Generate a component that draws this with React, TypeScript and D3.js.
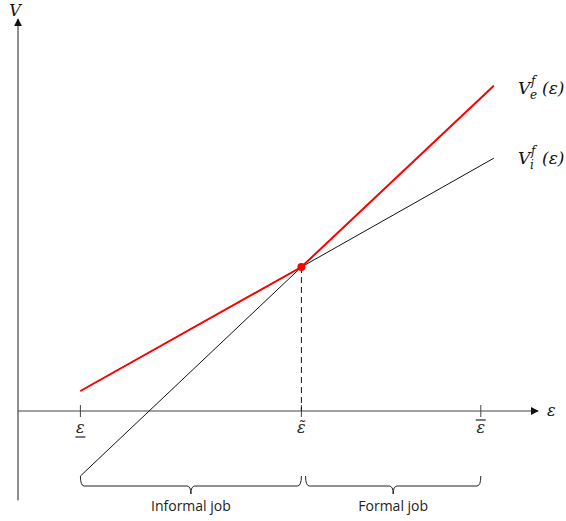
import React from "react";
import * as d3 from "d3";

// Threshold values of the productivity draw ε
const epsLow = 1.2;
const epsCut = 5.45;
const epsHigh = 8.9;

// Value functions at the plotted ε points: [ε, V]
const valueInformal: [number, number][] = [
  [1.2, 0.5],
  [5.45, 3.6],
  [9.15, 6.32],
];
const valueFormal: [number, number][] = [
  [1.2, -1.625],
  [5.45, 3.6],
  [9.15, 8.13],
];

// Curve labels: subscript and the V value the label sits beside
const curveLabels = [
  { sub: "e", at: 8.13 },
  { sub: "i", at: 6.38 },
];

// Bracketed job regions
const regions = [
  { label: "Informal job", from: 1.2, to: 5.45 },
  { label: "Formal job", from: 5.53, to: 8.9 },
];

const W = 566;
const H = 521;

export default function App() {
  const x = d3.scaleLinear().domain([0, 10]).range([18, 538]);
  const y = d3.scaleLinear().domain([0, 10]).range([411, 11]);

  const line = d3
    .line<[number, number]>()
    .x((d) => x(d[0]))
    .y((d) => y(d[1]));

  // Upper envelope max(V_e, V_i)
  const envelope: [number, number][] = valueInformal.map((d, i) => [
    d[0],
    Math.max(d[1], valueFormal[i][1]),
  ]);

  const cross = valueInformal[1];

  const bracePath = (x0: number, x1: number) => {
    const yT = 476;
    const yB = 486;
    const m = (x0 + x1) / 2;
    return `M${x0},${yT} Q${x0},${yB} ${x0 + 4},${yB} L${m - 4},${yB} Q${m},${yB} ${m},${yB + 8} Q${m},${yB} ${m + 4},${yB} L${x1 - 4},${yB} Q${x1},${yB} ${x1},${yT}`;
  };

  const mathFont = "'DejaVu Serif', serif";
  const axisColor = "#444";

  return (
    <svg
      width={W}
      height={H}
      style={{ position: "absolute", left: 0, top: 0, background: "#fff" }}
    >
      <defs>
        <marker
          id="arr"
          viewBox="0 0 10 10"
          refX="9"
          refY="5"
          markerWidth="8"
          markerHeight="8"
          orient="auto"
          markerUnits="userSpaceOnUse"
        >
          <path d="M0,0 L10,5 L0,10 Z" fill="#111" />
        </marker>
      </defs>

      {/* axes */}
      <line
        x1={x(0)}
        y1={y(-2.23)}
        x2={x(0)}
        y2={y(9.8)}
        stroke={axisColor}
        strokeWidth={1.2}
        markerEnd="url(#arr)"
      />
      <line
        x1={x(0)}
        y1={y(0)}
        x2={x(10)}
        y2={y(0)}
        stroke={axisColor}
        strokeWidth={1.2}
        markerEnd="url(#arr)"
      />
      <text
        x={x(0) - 3}
        y={16}
        textAnchor="middle"
        fontFamily={mathFont}
        fontStyle="italic"
        fontSize={16}
        fill="#111"
      >
        V
      </text>
      <text
        x={x(10) + 9}
        y={y(0) + 5}
        fontFamily={mathFont}
        fontStyle="italic"
        fontSize={16}
        fill="#111"
      >
        ε
      </text>

      {/* ticks */}
      {[epsLow, epsCut, epsHigh].map((t) => (
        <line
          key={t}
          x1={x(t)}
          x2={x(t)}
          y1={y(0) - 6}
          y2={y(0) + 6}
          stroke={axisColor}
          strokeWidth={1}
        />
      ))}
      <text
        x={x(epsLow)}
        y={y(0) + 22}
        textAnchor="middle"
        fontFamily={mathFont}
        fontStyle="italic"
        fontSize={16}
        fill="#222"
      >
        ε
      </text>
      <line
        x1={x(epsLow) - 5}
        x2={x(epsLow) + 5}
        y1={y(0) + 26}
        y2={y(0) + 26}
        stroke="#222"
        strokeWidth={1.2}
      />
      <text
        x={x(epsCut)}
        y={y(0) + 22}
        textAnchor="middle"
        fontFamily={mathFont}
        fontStyle="italic"
        fontSize={16}
        fill="#222"
      >
        ε̃
      </text>
      <text
        x={x(epsHigh)}
        y={y(0) + 22}
        textAnchor="middle"
        fontFamily={mathFont}
        fontStyle="italic"
        fontSize={16}
        fill="#222"
      >
        ε
      </text>
      <line
        x1={x(epsHigh) - 5}
        x2={x(epsHigh) + 5}
        y1={y(0) + 9}
        y2={y(0) + 9}
        stroke="#222"
        strokeWidth={1.2}
      />

      {/* dashed drop line at the threshold */}
      <line
        x1={x(cross[0])}
        x2={x(cross[0])}
        y1={y(cross[1])}
        y2={y(0)}
        stroke="#111"
        strokeWidth={1}
        strokeDasharray="6,4"
      />

      {/* value functions */}
      <path d={line(valueFormal) ?? ""} fill="none" stroke="#111" strokeWidth={1} />
      <path d={line(valueInformal) ?? ""} fill="none" stroke="#111" strokeWidth={1} />
      <path d={line(envelope) ?? ""} fill="none" stroke="#f00" strokeWidth={2} />
      <circle cx={x(cross[0])} cy={y(cross[1])} r={4} fill="#f00" />

      {/* curve labels V_e^f(ε), V_i^f(ε) */}
      {curveLabels.map((c) => {
        const by = y(c.at) + 8;
        return (
          <g key={c.sub} fontFamily={mathFont} fontStyle="italic" fill="#111">
            <text x={518} y={by} fontSize={17}>V</text>
            <text x={531} y={by - 9} fontSize={12}>f</text>
            <text x={530} y={by + 5} fontSize={12}>{c.sub}</text>
            <text x={542} y={by} fontSize={17}>(ε)</text>
          </g>
        );
      })}

      {/* job regions */}
      {regions.map((r) => (
        <g key={r.label}>
          <path d={bracePath(x(r.from), x(r.to))} fill="none" stroke="#222" strokeWidth={1} />
          <text
            x={(x(r.from) + x(r.to)) / 2}
            y={511}
            textAnchor="middle"
            fontFamily="'Open Sans', sans-serif"
            fontSize={14}
            fill="#222"
          >
            {r.label}
          </text>
        </g>
      ))}
    </svg>
  );
}
